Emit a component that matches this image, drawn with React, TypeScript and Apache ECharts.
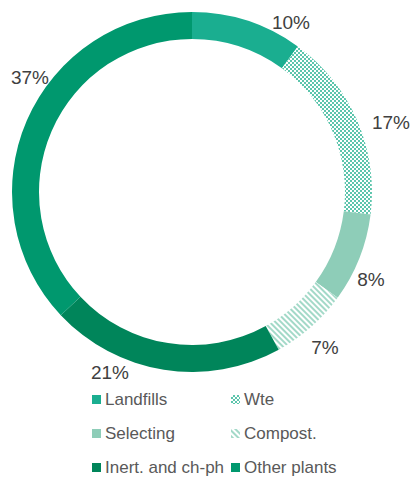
import React, { useEffect, useRef } from "react";
import * as echarts from "echarts";

const categories = ["Landfills", "Wte", "Selecting", "Compost.", "Inert. and ch-ph", "Other plants"];
const values = [10, 17, 8, 7, 21, 37];
const labelTexts = ["10%", "17%", "8%", "7%", "21%", "37%"];

const labelPos: [number, number][] = [
  [291, 22],
  [391, 122],
  [371, 279],
  [325, 347],
  [110, 372],
  [30, 77],
];

const colors = ["#1AAE90", "#ffffff", "#8ECDB8", "#ffffff", "#00855A", "#00986E"];
const decals: any[] = [
  null,
  {
    symbol: "rect",
    symbolSize: 1,
    color: "#5CC5AC",
    dashArrayX: [[2, 2], [0, 2, 2, 0]],
    dashArrayY: [2, 0],
    rotation: 0,
  },
  null,
  {
    symbol: "rect",
    symbolSize: 1,
    color: "#A3D9C8",
    dashArrayX: [1, 0],
    dashArrayY: [2, 2],
    rotation: Math.PI / 4,
  },
  null,
  null,
];

export default function App() {
  const ref = useRef<HTMLDivElement>(null);
  useEffect(() => {
    document.body.style.margin = "0";
    const chart = echarts.init(ref.current!, null, { renderer: "svg" });
    const data = categories.map((name, i) => {
      const itemStyle: any = { color: colors[i] };
      if (decals[i]) itemStyle.decal = decals[i];
      return { name, value: values[i], itemStyle };
    });
    const legendCommon = {
      orient: "vertical" as const,
      icon: "rect",
      itemWidth: 9,
      itemHeight: 9,
      itemGap: 17,
      textStyle: { fontSize: 17, color: "#595959", fontFamily: "Liberation Sans, Arial", padding: [0, 0, 0, -1], lineHeight: 17 },
      top: 391,
      padding: 0,
    };
    chart.setOption({
      animation: false,
      legend: [
        { ...legendCommon, left: 92, data: [categories[0], categories[2], categories[4]] },
        { ...legendCommon, left: 231, data: [categories[1], categories[3], categories[5]] },
      ],
      series: [
        {
          type: "pie",
          center: [192, 192],
          radius: [153, 180],
          startAngle: 90,
          clockwise: true,
          avoidLabelOverlap: false,
          label: {
            show: true,
            formatter: (p: any) => labelTexts[p.dataIndex],
            fontSize: 19,
            color: "#404040",
            fontFamily: "Liberation Sans, Arial",
          },
          labelLine: { show: false },
          labelLayout: (p: any) => ({
            x: labelPos[p.dataIndex][0],
            y: labelPos[p.dataIndex][1],
            align: "center",
            verticalAlign: "middle",
          }),
          emphasis: { disabled: true },
          data,
        },
      ],
    });
    return () => chart.dispose();
  }, []);
  return <div ref={ref} style={{ width: 411, height: 477 }} />;
}
